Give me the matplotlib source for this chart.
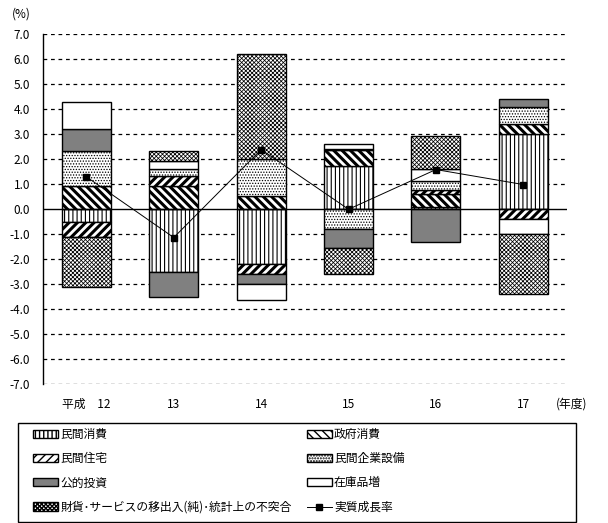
import numpy as np
import matplotlib
matplotlib.use("Agg")
import matplotlib.pyplot as plt
from matplotlib.patches import Rectangle

plt.rcParams['font.family'] = ['Noto Sans CJK JP', 'DejaVu Sans']
plt.rcParams['hatch.color'] = 'black'

# 年度
years = ['平成\u300012', '13', '14', '15', '16', '17']

# 寄与度 (%)
minkan_shohi = [-0.52, -2.52, -2.20, 1.73, 0.10, 3.00]
seifu_shohi = [0.92, 0.92, 0.52, 0.65, 0.50, 0.40]
minkan_jutaku = [-0.59, 0.43, -0.40, 0.05, 0.18, -0.40]
minkan_setsubi = [1.40, 0.25, 1.48, -0.80, 0.34, 0.68]
koteki_toshi = [0.88, -0.99, -0.40, -0.73, -1.32, 0.32]
zaiko = [1.08, 0.32, -0.63, 0.17, 0.48, -0.60]
zaika_service = [-2.00, 0.40, 4.21, -1.07, 1.33, -2.40]
growth = [1.30, -1.13, 2.39, 0.00, 1.59, 0.99]

series = [
    ('民間消費', minkan_shohi, 'white', '||||', 0.8),
    ('政府消費', seifu_shohi, 'white', '\\\\\\\\', 2.2),
    ('民間住宅', minkan_jutaku, 'white', '////', 2.2),
    ('民間企業設備', minkan_setsubi, 'white', '......', 0.6),
    ('公的投資', koteki_toshi, '#808080', None, 1.0),
    ('在庫品増', zaiko, 'white', None, 1.0),
    ('財貨\uff65サービスの移出入(純)\uff65統計上の不突合', zaika_service, 'white', 'xxxxxxxx', 0.55),
]

fig = plt.figure(figsize=(6.08, 5.23), dpi=100)
ax = fig.add_axes([42.7 / 608, 1 - 384.3 / 523, 524.3 / 608, 350 / 523])

x = np.arange(len(years))
pos_bottom = np.zeros(len(years))
neg_bottom = np.zeros(len(years))
handles = {}
for label, vals, color, hatch, hlw in series:
    v = np.array(vals)
    bottom = np.where(v >= 0, pos_bottom, neg_bottom)
    with plt.rc_context({'hatch.linewidth': hlw}):
        bars = ax.bar(x, v, 0.56, bottom=bottom, color=color, edgecolor='black',
                      linewidth=1.0, hatch=hatch, zorder=3, label=label)
    for b in bars:
        if hasattr(b, 'set_hatch_linewidth'):
            b.set_hatch_linewidth(hlw)
    handles[label] = bars
    pos_bottom = pos_bottom + np.where(v >= 0, v, 0)
    neg_bottom = neg_bottom + np.where(v < 0, v, 0)

line, = ax.plot(x, growth, color='black', linewidth=0.7, marker='s',
                markersize=4.3, zorder=5, label='実質成長率')

ax.set_xlim(-0.5, 5.5)
ax.set_ylim(-7, 7)
ax.set_yticks(np.arange(-7, 8, 1))
ax.set_yticklabels([f'{t:.1f}' for t in np.arange(-7, 8, 1)])
ax.set_xticks(x)
ax.set_xticklabels(years)
ax.tick_params(axis='y', length=0, pad=9, labelsize=8.5)
ax.tick_params(axis='x', length=0, pad=10, labelsize=8.5)
for t in np.arange(-7, 8, 1):
    if t == 0:
        ax.axhline(0, color='black', linewidth=1.0, zorder=4)
    else:
        ax.axhline(t, color='black', linewidth=0.9, linestyle=(0, (3, 3)), zorder=1)
for s in ['top', 'right', 'bottom']:
    ax.spines[s].set_visible(False)
ax.spines['left'].set_linewidth(1.0)

fig.text(21 / 608, 1 - 14 / 523, '(%)', ha='center', va='center', fontsize=8.5)
fig.text(572 / 608, 1 - 404 / 523, '(年度)', ha='center', va='center', fontsize=8.5)

# 凡例 (左列・右列の順)
names = [s[0] for s in series]
left_col = [names[0], names[2], names[4], names[6]]
right_col = [names[1], names[3], names[5]]
h = [handles[k] for k in left_col] + [handles[k] for k in right_col] + [line]
labels = left_col + right_col + ['実質成長率']
fig.patches.append(Rectangle((18 / 608, 1 - 522 / 523), 558 / 608, 99 / 523,
                             transform=fig.transFigure, fill=False,
                             edgecolor='black', linewidth=1.0))
fig.legend(h, labels, ncol=2, loc='upper left',
           bbox_to_anchor=(33 / 608, 1 - 428 / 523), frameon=False,
           fontsize=8.5, borderpad=0, borderaxespad=0, handlelength=2.1,
           handleheight=0.7, handletextpad=0.2, labelspacing=0.95,
           columnspacing=1.3)

fig.savefig('out.png', dpi=100)
